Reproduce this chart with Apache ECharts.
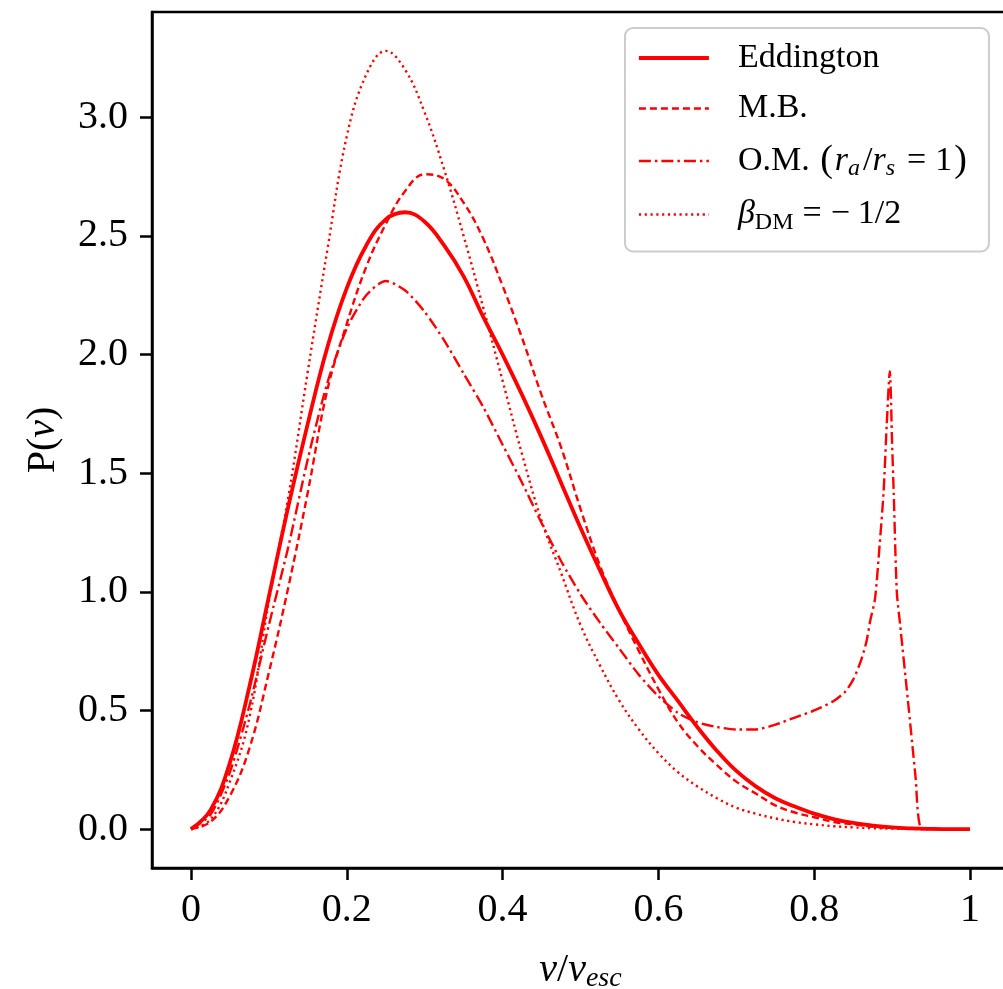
<!DOCTYPE html>
<html>
<head>
<meta charset="utf-8">
<script src="https://cdn.jsdelivr.net/npm/echarts@6/dist/echarts.min.js"></script>
<style>
html,body{margin:0;padding:0;background:#fff;}
#chart{width:1003px;height:989px;}
</style>
</head>
<body>
<div id="chart"></div>
<script>
// ---- data ----
const xs = [0,0.025,0.05,0.075,0.1,0.125,0.15,0.175,0.2,0.225,0.25,0.275,0.3,0.325,0.35,0.375,0.4,0.425,0.45,0.475,0.5,0.525,0.55,0.575,0.6,0.625,0.65,0.675,0.7,0.725,0.75,0.775,0.8,0.825,0.85,0.875,0.9,0.925,0.95,0.975,1.0];
const eddington = [0,0.08,0.28,0.60,0.98,1.36,1.71,2.03,2.28,2.46,2.57,2.60,2.56,2.46,2.33,2.16,2.00,1.83,1.65,1.46,1.27,1.09,0.92,0.78,0.65,0.54,0.43,0.33,0.245,0.18,0.13,0.095,0.065,0.042,0.026,0.015,0.007,0.003,0.001,0,0];
const maxwell = [0,0.03,0.14,0.34,0.66,1.02,1.42,1.85,2.13,2.37,2.55,2.69,2.76,2.74,2.64,2.49,2.29,2.07,1.83,1.61,1.35,1.11,0.92,0.75,0.59,0.45,0.35,0.27,0.20,0.15,0.10,0.07,0.05,0.03,0.02,0.01,0.005,0.002,0,0,0];
const betaDM = [0,0.04,0.20,0.47,0.96,1.40,1.93,2.44,2.92,3.18,3.28,3.20,3.02,2.78,2.50,2.20,1.89,1.58,1.30,1.08,0.86,0.69,0.54,0.42,0.32,0.24,0.18,0.13,0.09,0.065,0.045,0.03,0.02,0.012,0.007,0.004,0.002,0.001,0,0,0];
const omX = [0,0.025,0.05,0.075,0.1,0.125,0.15,0.175,0.2,0.225,0.25,0.275,0.3,0.325,0.35,0.375,0.4,0.425,0.45,0.475,0.5,0.525,0.55,0.575,0.6,0.625,0.65,0.675,0.7,0.725,0.75,0.775,0.8,0.825,0.84,0.85,0.86,0.867,0.872,0.878,0.884,0.889,0.893,0.897,0.9,0.902,0.906,0.91,0.92,0.93,0.936,0.95,1.0];
const omY = [0,0.06,0.24,0.52,0.86,1.19,1.56,1.88,2.11,2.25,2.31,2.27,2.18,2.06,1.92,1.78,1.62,1.46,1.29,1.13,0.99,0.87,0.76,0.65,0.56,0.49,0.45,0.43,0.42,0.42,0.44,0.47,0.50,0.54,0.58,0.63,0.71,0.79,0.88,0.97,1.20,1.42,1.70,1.93,1.62,1.42,1.00,0.87,0.55,0.22,0.01,0,0];
const xTickValues = [0,0.2,0.4,0.6,0.8,1];
const xTickLabels = ['0','0.2','0.4','0.6','0.8','1'];
const yTickValues = [0,0.5,1,1.5,2,2.5,3];
const yTickLabels = ['0.0','0.5','1.0','1.5','2.0','2.5','3.0'];
const seriesNames = ['Eddington','M.B.','O.M.','beta'];

const pairs = (x, y) => x.map((v, i) => [v, y[i]]);
const SERIF = '"Times New Roman", "Liberation Serif", serif';
const RED = '#ff0000';

const legendText = {
  'Eddington': '{g|}{t|Eddington}',
  'M.B.': '{g|}{t|M.B.}',
  'O.M.': '{g|}{t|O.M. }{p|(}{i|r}{si|a}{t|/}{i|r}{si|s}{eq|=}{t|1}{p|)}',
  'beta': '{g|}{i|β}{su|DM}{eq|=}{mi|−}{t|1/2}'
};
const rich = {
  g: {width: 24, height: 10},
  t: {fontSize: 34, fontFamily: SERIF, color: '#000', lineHeight: 40},
  p: {fontSize: 38, fontFamily: SERIF, color: '#000', lineHeight: 40, padding: [0, 2, 0, 2]},
  eq: {fontSize: 34, fontFamily: SERIF, color: '#000', lineHeight: 40, padding: [0, 9, 0, 9]},
  mi: {fontSize: 34, fontFamily: SERIF, color: '#000', lineHeight: 40, padding: [0, 8, 0, 0]},
  i: {fontSize: 34, fontFamily: SERIF, fontStyle: 'italic', color: '#000', lineHeight: 40},
  si: {fontSize: 24, fontFamily: SERIF, fontStyle: 'italic', color: '#000', lineHeight: 14, verticalAlign: 'bottom', padding: [0, 3, 0, 0]},
  su: {fontSize: 24, fontFamily: SERIF, color: '#000', lineHeight: 14, verticalAlign: 'bottom'},
  ax: {fontSize: 40, fontFamily: SERIF, color: '#000', lineHeight: 46},
  axi: {fontSize: 40, fontFamily: SERIF, fontStyle: 'italic', color: '#000', lineHeight: 46},
  axs: {fontSize: 28, fontFamily: SERIF, fontStyle: 'italic', color: '#000', lineHeight: 16, verticalAlign: 'bottom'}
};
const lineWidths = [3.8, 2.4, 2.4, 2.4];

const chart = echarts.init(document.getElementById('chart'), null, {renderer: 'canvas'});
chart.setOption({
  animation: false,
  backgroundColor: '#fff',
  grid: {left: 152, top: 12, right: -6, bottom: 121, show: true, borderColor: '#000', borderWidth: 2.5, containLabel: false, outerBoundsMode: 'none'},
  xAxis: {
    type: 'value', min: -0.05, max: 1.05,
    name: '{axi|v}{ax|/}{axi|v}{axs|esc}', nameLocation: 'middle', nameGap: 79,
    nameTextStyle: {rich: rich},
    axisLine: {show: true, onZero: false, lineStyle: {color: '#000', width: 2.5}},
    axisTick: {show: true, inside: false, length: 12, customValues: xTickValues, lineStyle: {color: '#000', width: 2.5}},
    axisLabel: {customValues: xTickValues, formatter: v => xTickLabels[xTickValues.indexOf(v)], fontSize: 40, fontFamily: SERIF, color: '#000', margin: 22},
    splitLine: {show: false}
  },
  yAxis: {
    type: 'value', min: -0.164, max: 3.444,
    name: '{ax|P(}{axi|v}{ax|)}', nameLocation: 'middle', nameGap: 86, nameRotate: 90,
    nameTextStyle: {rich: rich},
    axisLine: {show: true, onZero: false, lineStyle: {color: '#000', width: 2.5}},
    axisTick: {show: true, inside: false, length: 12, customValues: yTickValues, lineStyle: {color: '#000', width: 2.5}},
    axisLabel: {customValues: yTickValues, formatter: v => yTickLabels[yTickValues.indexOf(v)], fontSize: 40, fontFamily: SERIF, color: '#000', margin: 24},
    splitLine: {show: false}
  },
  legend: {
    show: true, orient: 'vertical', left: 625, top: 28,
    padding: [13, 20, 17, 12], itemGap: 16.5, itemWidth: 70, itemHeight: 20,
    backgroundColor: '#fff', borderColor: '#cccccc', borderWidth: 2, borderRadius: 8,
    itemStyle: {opacity: 0},
    data: seriesNames.map((n, k) => ({name: n, lineStyle: {width: lineWidths[k]}})),
    formatter: n => legendText[n],
    textStyle: {fontSize: 34, fontFamily: SERIF, color: '#000', rich: rich}
  },
  series: [
    {name: seriesNames[0], type: 'line', data: pairs(xs, eddington), symbol: 'none', smooth: 0.4,
     lineStyle: {color: RED, width: lineWidths[0], type: 'solid'}, itemStyle: {color: RED}},
    {name: seriesNames[1], type: 'line', data: pairs(xs, maxwell), symbol: 'none', smooth: 0.4,
     lineStyle: {color: RED, width: lineWidths[1], type: [7, 4]}, itemStyle: {color: RED}},
    {name: seriesNames[2], type: 'line', data: pairs(omX, omY), symbol: 'none', smooth: 0.25,
     lineStyle: {color: RED, width: lineWidths[2], type: [12, 4, 2.5, 4]}, itemStyle: {color: RED}},
    {name: seriesNames[3], type: 'line', data: pairs(xs, betaDM), symbol: 'none', smooth: 0.4,
     lineStyle: {color: RED, width: lineWidths[3], type: [2.2, 3.6]}, itemStyle: {color: RED}}
  ]
});
</script>
</body>
</html>
